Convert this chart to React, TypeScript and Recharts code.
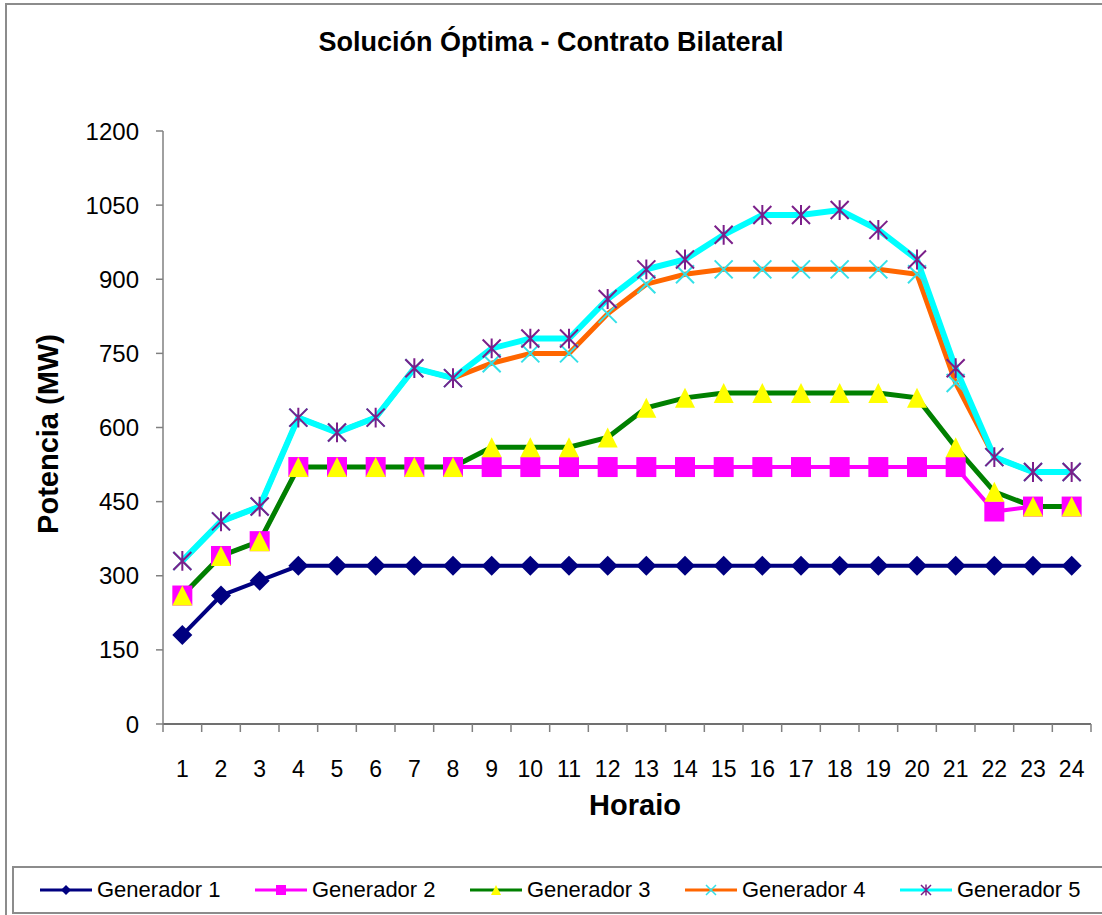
import React from 'react'
import { LineChart, Line, XAxis, YAxis } from 'recharts'

const HOURS = [1, 2, 3, 4, 5, 6, 7, 8, 9, 10, 11, 12, 13, 14, 15, 16, 17, 18, 19, 20, 21, 22, 23, 24]
const GEN1 = [180, 260, 290, 320, 320, 320, 320, 320, 320, 320, 320, 320, 320, 320, 320, 320, 320, 320, 320, 320, 320, 320, 320, 320]
const GEN2 = [260, 340, 370, 520, 520, 520, 520, 520, 520, 520, 520, 520, 520, 520, 520, 520, 520, 520, 520, 520, 520, 430, 440, 440]
const GEN3 = [260, 340, 370, 520, 520, 520, 520, 520, 560, 560, 560, 580, 640, 660, 670, 670, 670, 670, 670, 660, 560, 470, 440, 440]
const GEN4 = [330, 410, 440, 620, 590, 620, 720, 700, 730, 750, 750, 830, 890, 910, 920, 920, 920, 920, 920, 910, 690, 540, 510, 510]
const GEN5 = [330, 410, 440, 620, 590, 620, 720, 700, 760, 780, 780, 860, 920, 940, 990, 1030, 1030, 1040, 1000, 940, 720, 540, 510, 510]
const Y_TICKS = [0, 150, 300, 450, 600, 750, 900, 1050, 1200]

// excel style: tick marks sit between the categories
const X_BOUNDS = [...HOURS.map(h => h - 0.5), 24.5]

const FONT = '"Liberation Sans", Arial, sans-serif'

const data = HOURS.map((h, i) => ({
  hora: h,
  g1: GEN1[i],
  g2: GEN2[i],
  g3: GEN3[i],
  g4: GEN4[i],
  g5: GEN5[i]
}))

type Marker = 'diamond' | 'square' | 'triangle' | 'x' | 'star'

function markerShape(kind: Marker, cx: number, cy: number, r: number, key?: any) {
  switch (kind) {
    case 'diamond':
      return <path key={key} d={`M${cx},${cy - r}L${cx + r},${cy}L${cx},${cy + r}L${cx - r},${cy}Z`} fill="#000080" />
    case 'square':
      return <rect key={key} x={cx - r} y={cy - r} width={r * 2} height={r * 2} fill="#FF00FF" />
    case 'triangle':
      return <path key={key} d={`M${cx},${cy - r}L${cx + r},${cy + r}L${cx - r},${cy + r}Z`} fill="#FFFF00" />
    case 'x':
      return (
        <path key={key} d={`M${cx - r},${cy - r}L${cx + r},${cy + r}M${cx + r},${cy - r}L${cx - r},${cy + r}`}
          stroke="#33E0E8" strokeWidth={r > 5 ? 2 : 1.5} fill="none" />
      )
    case 'star':
      return (
        <path key={key} d={`M${cx - r},${cy - r}L${cx + r},${cy + r}M${cx + r},${cy - r}L${cx - r},${cy + r}M${cx},${cy - r * 1.1}L${cx},${cy + r * 1.1}`}
          stroke="#7B1F8A" strokeWidth={r > 5 ? 2 : 1.5} fill="none" />
      )
  }
}

const makeDot = (kind: Marker, r: number) => (props: any) => {
  const { cx, cy, index } = props
  if (cx == null || cy == null) return <g key={index} />
  return markerShape(kind, cx, cy, r, index)
}

const SERIES = [
  { key: 'g1', name: 'Generador 1', color: '#000080', width: 4, marker: 'diamond' as Marker, r: 10 },
  { key: 'g2', name: 'Generador 2', color: '#FF00FF', width: 4, marker: 'square' as Marker, r: 10 },
  { key: 'g3', name: 'Generador 3', color: '#008000', width: 5, marker: 'triangle' as Marker, r: 10 },
  { key: 'g4', name: 'Generador 4', color: '#FF6600', width: 5, marker: 'x' as Marker, r: 9 },
  { key: 'g5', name: 'Generador 5', color: '#00FFFF', width: 6, marker: 'star' as Marker, r: 9 }
]

const HourTick = (props: any) => {
  const { x, y, payload } = props
  return (
    <text x={x} y={y + 44} textAnchor="middle" fontSize={23} fontFamily={FONT} fill="#000">
      {payload.value}
    </text>
  )
}

export default function App() {
  return (
    <div style={{ position: 'absolute', left: 0, top: 0, width: 1102, height: 915, background: '#fff', overflow: 'hidden', fontFamily: FONT }}>
      {/* outer chart frame */}
      <div style={{ position: 'absolute', left: 5, top: 3, width: 1110, height: 930, border: '2px solid #8c8c8c' }} />

      <div style={{ position: 'absolute', left: 0, top: 27, width: 1102, textAlign: 'center', fontWeight: 'bold', fontSize: 27 }}>
        Solución Óptima - Contrato Bilateral
      </div>

      <div style={{
        position: 'absolute', left: 48, top: 434, transform: 'translate(-50%, -50%) rotate(-90deg)',
        whiteSpace: 'nowrap', fontWeight: 'bold', fontSize: 29
      }}>
        Potencia (MW)
      </div>

      <div style={{ position: 'absolute', left: 635, top: 789, transform: 'translateX(-50%)', fontWeight: 'bold', fontSize: 29 }}>
        Horaio
      </div>

      <LineChart
        width={1102}
        height={915}
        data={data}
        margin={{ top: 131, right: 11, left: 83, bottom: 189 }}
        style={{ position: 'absolute', left: 0, top: 0 }}
      >
        <XAxis
          xAxisId="bnd"
          dataKey="hora"
          type="number"
          domain={[0.5, 24.5]}
          ticks={X_BOUNDS}
          interval={0}
          height={1}
          tickSize={8}
          tick={() => <g />}
          tickLine={{ stroke: '#808080', strokeWidth: 1.5 }}
          axisLine={{ stroke: '#404040', strokeWidth: 1.5 }}
        />
        <XAxis
          xAxisId="lab"
          dataKey="hora"
          type="number"
          domain={[0.5, 24.5]}
          ticks={HOURS}
          interval={0}
          height={1}
          tickLine={false}
          axisLine={false}
          tick={<HourTick />}
        />
        <YAxis
          type="number"
          domain={[0, 1200]}
          ticks={Y_TICKS}
          interval={0}
          width={80}
          tickSize={7}
          tickMargin={17}
          axisLine={{ stroke: '#808080', strokeWidth: 1.5 }}
          tickLine={{ stroke: '#808080', strokeWidth: 1.5 }}
          tick={{ fill: '#000', fontSize: 24, fontFamily: FONT }}
        />
        {SERIES.map(s => (
          <Line
            key={s.key}
            xAxisId="lab"
            type="linear"
            dataKey={s.key}
            name={s.name}
            stroke={s.color}
            strokeWidth={s.width}
            dot={makeDot(s.marker, s.r)}
            activeDot={false}
            isAnimationActive={false}
          />
        ))}
      </LineChart>

      {/* legend box */}
      <div style={{ position: 'absolute', left: 12, top: 866, width: 1110, height: 44, border: '2px solid #8c8c8c', background: '#fff' }}>
        {SERIES.map((s, i) => (
          <div key={s.key} style={{ position: 'absolute', left: 25 + i * 215, top: 0, height: 44, display: 'flex', alignItems: 'center' }}>
            <svg width={54} height={20}>
              <line x1={1} y1={10} x2={53} y2={10} stroke={s.color} strokeWidth={3} />
              {markerShape(s.marker, 27, 10, 5)}
            </svg>
            <span style={{ marginLeft: 4, fontSize: 22, color: '#000' }}>{s.name}</span>
          </div>
        ))}
      </div>
    </div>
  )
}
